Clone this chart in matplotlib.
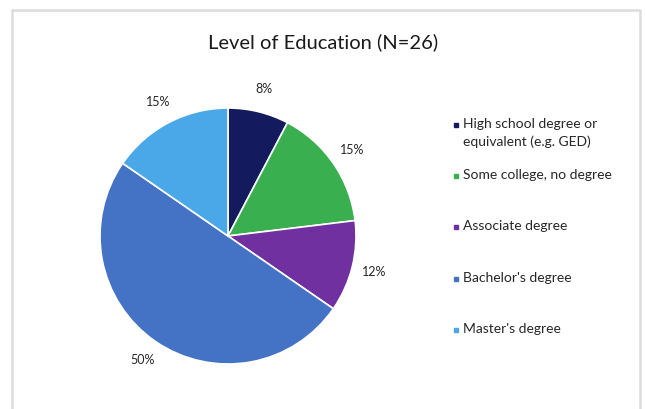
import numpy as np
import matplotlib
matplotlib.rc('font', family=['Lato', 'DejaVu Sans'])
import matplotlib.pyplot as plt
from matplotlib.lines import Line2D

title = "Level of Education (N=26)"
categories = ["High school degree or\nequivalent (e.g. GED)",
              "Some college, no degree",
              "Associate degree",
              "Bachelor's degree",
              "Master's degree"]
counts = [2, 4, 3, 13, 4]
colors = ['#131b5e', '#3aaf50', '#7030a0', '#4472c4', '#4aa8e8']

W, H = 645, 409

if __name__ == '__main__':
    fig = plt.figure(figsize=(W / 100, H / 100), dpi=100)
    ax = fig.add_axes([0, 0, 1, 1])

    # chart frame (bottom edge is cropped off in the original)
    ax.add_line(Line2D([12, 12, 640, 640], [0, H - 10, H - 10, 0],
                       color='#dcdcdc', lw=1.8))

    ax.text(323, H - 42, title, ha='center', va='center', fontsize=14.5, color='#1a1a1a')

    ax.pie(counts, colors=colors, startangle=90, counterclock=False,
           center=(228, H - 236), radius=128, frame=True,
           autopct=lambda p: f"{p:.0f}%", pctdistance=1.18,
           wedgeprops=dict(edgecolor='white', linewidth=1.2),
           textprops=dict(fontsize=9, color='#262626'))
    ax.set_xlim(0, W)
    ax.set_ylim(0, H)
    ax.set_aspect('equal')
    ax.axis('off')

    # legend
    y0 = [125, 176, 227, 279, 330]
    for c, lab, y in zip(colors, categories, y0):
        ax.plot(456, H - y, marker='s', ms=3.5, color=c, ls='none')
        ax.text(463, H - y + 7, lab, ha='left', va='top', fontsize=10,
                color='#262626', linespacing=1.55)

    fig.savefig('out.png', dpi=100)
    plt.close(fig)
